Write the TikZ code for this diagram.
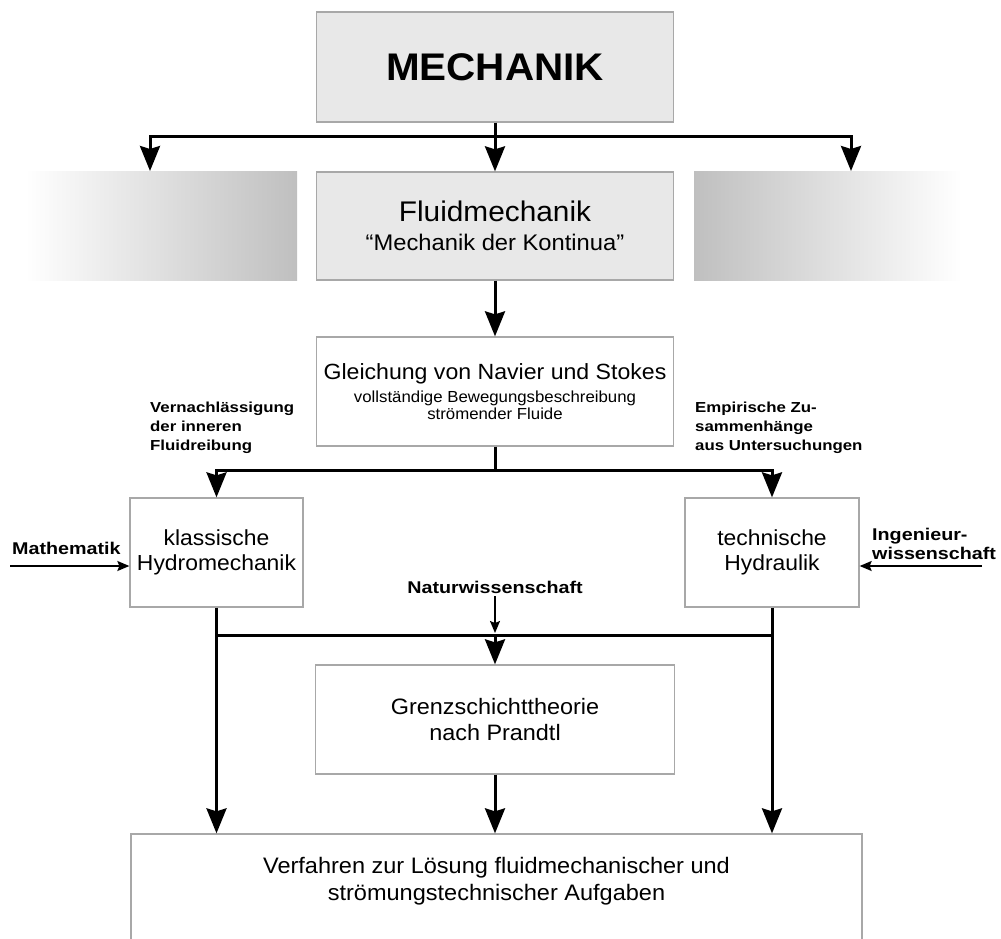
\documentclass[tikz,border=0pt]{standalone}
\usepackage{fontspec}
\setmainfont{Liberation Sans}
\newfontfamily\rf{Liberation Sans}[FakeStretch=1.05]
\newfontfamily\lf{Liberation Sans}[FakeStretch=1.16]
\usetikzlibrary{arrows.meta}
\definecolor{boxgray}{HTML}{A8A8A8}
\definecolor{boxfill}{HTML}{E8E8E8}
\begin{document}
\begin{tikzpicture}[x=1pt,y=-1pt,
  box/.style={draw=boxgray, line width=1.3pt, inner sep=0pt, align=center},
  fbox/.style={box, fill=boxfill},
  fade/.style={inner sep=0pt, draw=none},
  thickline/.style={line width=3pt},
  thickarrow/.style={line width=3pt, -{Stealth[length=25pt,width=20pt,inset=3pt]}},
  thinarrow/.style={line width=1.5pt, -{Stealth[length=12pt,width=10pt,inset=2pt]}},
  lblsmall/.style={font={\lf\bfseries\fontsize{14.5}{19}\selectfont}, align=left, inner sep=0pt},
  lblbig/.style={font={\lf\bfseries\fontsize{17}{19}\selectfont}, align=left, inner sep=0pt}
]
\useasboundingbox (0,0) rectangle (1001,938);
\clip (0,0) rectangle (1001,938);

% boxes
\node[fbox, minimum width=357pt, minimum height=110pt,
      font={\rf\bfseries\fontsize{38.5}{44}\selectfont}] (mech) at (495,67) {MECHANIK};
\node[fade, left color=white, right color=black!25,
      minimum width=272pt, minimum height=109pt] (gl) at (161,225.5) {};
\node[fade, left color=black!25, right color=white,
      minimum width=268pt, minimum height=109pt] (gr) at (828,225.5) {};
\node[fbox, minimum width=357pt, minimum height=108pt,
      font={\rf\fontsize{22.6}{29.5}\selectfont}] (fluid) at (495,226)
      {{\fontsize{28.4}{29.5}\selectfont Fluidmechanik}\\“Mechanik der Kontinua”};
\node[box, minimum width=357pt, minimum height=109pt,
      font={\rf\fontsize{16}{16.5}\selectfont}] (ns) at (495,391.5)
      {{\fontsize{22}{16.5}\selectfont Gleichung von Navier und Stokes}\\[6.5pt]vollständige Bewegungsbeschreibung\\strömender Fluide};
\node[box, minimum width=173pt, minimum height=109pt,
      font={\rf\fontsize{21.8}{25}\selectfont}] (klass) at (216.5,552.5)
      {klassische\\Hydromechanik};
\node[box, minimum width=174pt, minimum height=109pt,
      font={\rf\fontsize{21.8}{25}\selectfont}] (tech) at (772,552.5)
      {technische\\Hydraulik};
\node[box, minimum width=359pt, minimum height=109pt,
      font={\rf\fontsize{22.3}{26}\selectfont}] (grenz) at (495,719.5)
      {Grenzschichttheorie\\nach Prandtl};
\node[box, minimum width=731pt, minimum height=140pt] (verf) at (496.5,904) {};
\node[inner sep=0pt, align=center, font={\rf\fontsize{22.4}{27}\selectfont}] (verftext) at (496.5,881)
      {Verfahren zur Lösung fluidmechanischer und\\strömungstechnischer Aufgaben};

% labels
\node[lblsmall, anchor=west] (vern) at (150,428) {Vernachlässigung\\der inneren\\Fluidreibung};
\node[lblsmall, anchor=west] (emp) at (695,428) {Empirische Zu-\\sammenhänge\\aus Untersuchungen};
\node[lblbig, anchor=west] (math) at (12,548) {Mathematik};
\node[lblbig, anchor=west] (ing) at (872,544) {Ingenieur-\\wissenschaft};
\node[lblbig, anchor=center] (nat) at (495,587) {Naturwissenschaft};

% coordinates
\coordinate (b1) at (495,136);
\coordinate (glin) at (150,171);
\coordinate (grin) at (851,171);
\coordinate (b2) at (495,470);
\coordinate (b3) at (495,635);
\coordinate (b3top) at (495,633);
\coordinate (m0) at (10,566);
\coordinate (i0) at (982,566);

% connectors top
\draw[thickarrow] (mech.south) -- (fluid.north);
\draw[thickarrow] (b1) -| (glin);
\draw[thickarrow] (b1) -| (grin);
\draw[thickarrow] (fluid.south) -- (ns.north);

% Navier-Stokes branch
\draw[thickline] (ns.south) -- (b2);
\draw[thickarrow] (b2) -| (klass.north);
\draw[thickarrow] (b2) -| (tech.north);

% lower part
\draw[thickline] (klass.south |- b3) -- (tech.south |- b3);
\draw[thickarrow] (klass.south) -- (klass.south |- verf.north);
\draw[thickarrow] (tech.south) -- (tech.south |- verf.north);
\draw[thickarrow] (b3) -- (grenz.north);
\draw[thickarrow] (grenz.south) -- (grenz.south |- verf.north);

% thin arrows
\draw[thinarrow, shorten <=3pt] (nat.south) -- (b3top);
\draw[thinarrow] (m0) -- (m0 -| klass.west);
\draw[thinarrow] (i0) -- (i0 -| tech.east);
\end{tikzpicture}
\end{document}
